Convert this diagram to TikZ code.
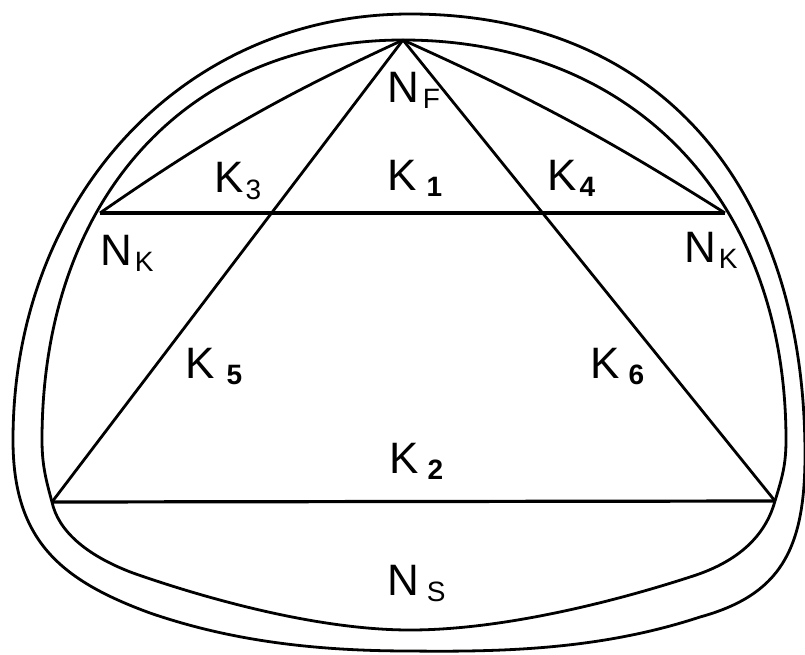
\documentclass[tikz,border=0pt]{standalone}
\usepackage{fontspec}
\setmainfont{Liberation Sans}
\usepackage{tikz}
\usetikzlibrary{positioning}

\newcommand{\lsub}[2][8pt]{\kern#1\raisebox{-6pt}{\fontsize{28}{28}\selectfont #2}}

\begin{document}
\begin{tikzpicture}[x=1pt,y=-1pt,line join=round,
  shell/.style={line width=2.8pt},
  bar/.style={line width=3.2pt},
  lbl/.style={anchor=base west,inner sep=0pt,font=\fontsize{44}{50}\selectfont}]
  \useasboundingbox (0,0) rectangle (805,655);
  % lining, outer
  \draw[shell] (13,440) .. controls (13,197) and (184,14) .. (410,14)
    .. controls (655,14) and (805,182) .. (805,455)
    .. controls (805,550) and (780,595) .. (700,617)
    .. controls (600,650) and (500,652) .. (410,651)
    .. controls (300,651) and (220,637) .. (150,613)
    .. controls (60,580) and (13,540) .. (13,440) -- cycle;
  % lining, inner
  \draw[shell] (786,440) .. controls (786,465) and (782,478) .. (775,501)
    .. controls (767,530) and (745,560) .. (690,577)
    .. controls (610,603) and (500,630) .. (410,630)
    .. controls (320,630) and (210,600) .. (133,573)
    .. controls (85,555) and (58,530) .. (52,502)
    .. controls (46,480) and (42,465) .. (42,440)
    .. controls (42,200) and (186,40) .. (403,40)
    .. controls (633,40) and (786,200) .. (786,440) -- cycle;
  % joints
  \coordinate (nf) at (403,40);
  \coordinate (nkl) at (100,213);
  \coordinate (nkr) at (725,213);
  \coordinate (nsl) at (52,502);
  \coordinate (nsr) at (775,501);
  % members
  \draw[shell] (nkl) to[bend left=5] (nf);
  \draw[shell] (nf) to[bend left=4] (nkr);
  \draw[shell] (nf) -- (nsl);
  \draw[shell] (nf) -- (nsr);
  \draw[bar] (nkl) -- (nkr);
  \draw[bar] (nsl) -- (nsr);
  % labels
  \node[lbl] (lnf) at (387,103) {N\lsub[4pt]{F}};
  \node[lbl] (lk3) at (214,193) {K\lsub[2pt]{3}};
  \node[lbl] (lk1) at (387,190) {K\lsub[10pt]{\textbf{1}}};
  \node[lbl] (lk4) at (547,190) {K\lsub[3pt]{\textbf{4}}};
  \node[lbl] (lnkl) at (100,265) {N\lsub[3pt]{K}};
  \node[lbl] (lnkr) at (684,262) {N\lsub[3pt]{K}};
  \node[lbl] (lk5) at (185,378) {K\lsub[12pt]{\textbf{5}}};
  \node[lbl] (lk6) at (590,378) {K\lsub[9pt]{\textbf{6}}};
  \node[lbl] (lk2) at (389,473) {K\lsub[9pt]{\textbf{2}}};
  \node[lbl] (lns) at (387,595) {N\lsub[8pt]{S}};
\end{tikzpicture}
\end{document}
